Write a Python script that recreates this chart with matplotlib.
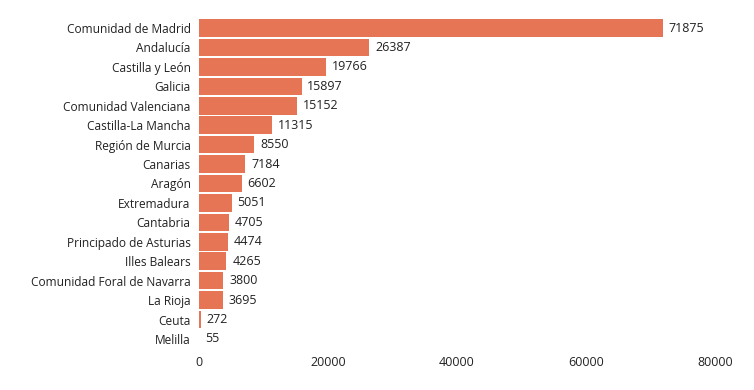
import matplotlib
matplotlib.use("Agg")
import matplotlib.pyplot as plt

regions = ["Comunidad de Madrid", "Andalucía", "Castilla y León", "Galicia",
           "Comunidad Valenciana", "Castilla-La Mancha", "Región de Murcia",
           "Canarias", "Aragón", "Extremadura", "Cantabria",
           "Principado de Asturias", "Illes Balears",
           "Comunidad Foral de Navarra", "La Rioja", "Ceuta", "Melilla"]
values = [71875, 26387, 19766, 15897, 15152, 11315, 8550, 7184, 6602,
          5051, 4705, 4474, 4265, 3800, 3695, 272, 55]
xticks = [0, 20000, 40000, 60000, 80000]

plt.rcParams['font.family'] = ['Open Sans', 'DejaVu Sans']

fig = plt.figure(figsize=(7.54, 3.9), dpi=100)
ax = fig.add_axes([0.2639, 0.106, 0.6844, 0.847])
ypos = list(range(len(regions)))
ax.barh(ypos, values, height=0.9, color="#E67556")
for y, v in zip(ypos, values):
    ax.text(v + 900, y, str(v), va="center", ha="left", fontsize=9, color="#222222")
ax.set_yticks(ypos)
ax.set_yticklabels(regions, fontsize=8.6, color="#222222")
ax.set_ylim(len(regions) - 0.5, -0.5)
ax.set_xlim(0, 80000)
ax.set_xticks(xticks)
ax.set_xticklabels([str(t) for t in xticks], fontsize=9, color="#222222")
for s in ax.spines.values():
    s.set_visible(False)
ax.tick_params(axis="both", length=0)
ax.tick_params(axis="y", pad=6)
ax.tick_params(axis="x", pad=5)
fig.savefig("out.png", dpi=100)
